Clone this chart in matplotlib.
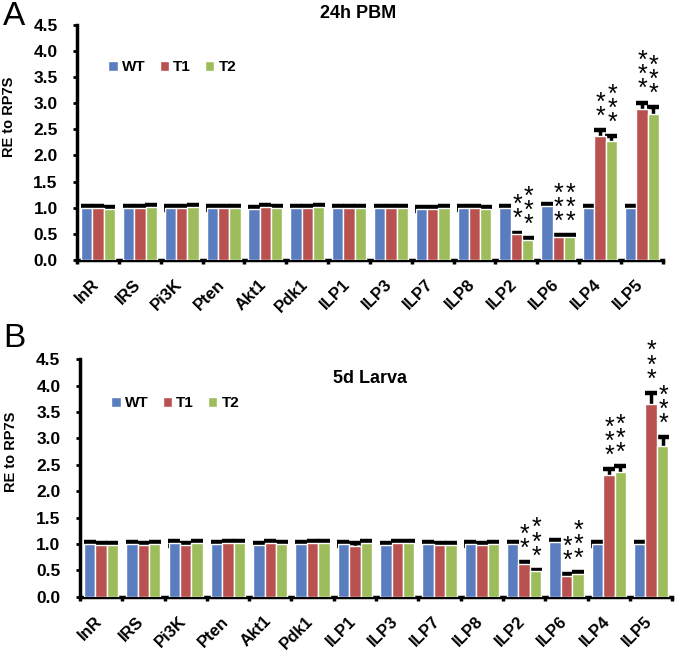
import numpy as np
import matplotlib
matplotlib.use("Agg")
import matplotlib.pyplot as plt
import matplotlib.transforms as mtransforms

plt.rcParams['font.family'] = ['Liberation Sans', 'DejaVu Sans']

genes = ["InR", "IRS", "Pi3K", "Pten", "Akt1", "Pdk1", "ILP1", "ILP3",
         "ILP7", "ILP8", "ILP2", "ILP6", "ILP4", "ILP5"]
groups = ["WT", "T1", "T2"]
colors = ["#5A7DC0", "#B8514F", "#9DBC5B"]

# panel A: 24h PBM
pbm_wt = [1.00, 1.00, 1.00, 1.00, 0.98, 1.00, 0.99, 1.00, 0.98, 1.00, 1.00, 1.04, 1.00, 1.00]
pbm_t1 = [1.00, 0.99, 0.99, 1.00, 1.01, 0.99, 1.00, 1.00, 0.98, 1.00, 0.49, 0.44, 2.38, 2.88]
pbm_t2 = [0.98, 1.01, 1.01, 0.99, 0.99, 1.01, 0.99, 0.99, 1.00, 0.98, 0.38, 0.44, 2.28, 2.80]
pbm_wt_err = [0.04] * 10 + [0.04, 0.03, 0.04, 0.04]
pbm_t1_err = [0.04] * 10 + [0.03, 0.03, 0.10, 0.13]
pbm_t2_err = [0.04] * 10 + [0.03, 0.03, 0.09, 0.12]
pbm_stars_t1 = [0] * 10 + [2, 3, 2, 3]
pbm_stars_t2 = [0] * 10 + [3, 3, 3, 3]

# panel B: 5d larva
lar_wt = [1.00, 1.00, 1.01, 1.00, 0.98, 1.00, 1.00, 0.98, 1.00, 1.00, 1.00, 1.04, 1.00, 1.00]
lar_t1 = [0.98, 0.98, 0.98, 1.02, 1.02, 1.02, 0.97, 1.01, 0.98, 0.98, 0.62, 0.40, 2.30, 3.66]
lar_t2 = [0.98, 1.00, 1.02, 1.02, 1.00, 1.02, 1.01, 1.01, 0.98, 1.00, 0.48, 0.44, 2.36, 2.86]
lar_wt_err = [0.04] * 10 + [0.04, 0.03, 0.04, 0.04]
lar_t1_err = [0.04] * 10 + [0.04, 0.03, 0.12, 0.20]
lar_t2_err = [0.04] * 10 + [0.03, 0.03, 0.11, 0.16]
lar_stars_t1 = [0] * 10 + [2, 2, 3, 3]
lar_stars_t2 = [0] * 10 + [3, 3, 3, 3]


def panel(fig, ax, title, vals, errs, stars, title_xy, leg_xy):
    x = np.arange(len(genes))
    w = 0.27
    for i, (v, e, c, g) in enumerate(zip(vals, errs, colors, groups)):
        xs = x + (i - 1) * w
        ax.bar(xs, v, w, color=c, edgecolor="white", linewidth=1.0, label=g, zorder=3)
        # symmetric bars, lower half hidden behind the bar (Excel style)
        ax.errorbar(xs, v, yerr=e, fmt="none", ecolor="black",
                    elinewidth=2.5, capsize=4.3, capthick=3.2, zorder=2)
        if stars[i] is not None:
            for j in range(len(genes)):
                if stars[i][j]:
                    ax.annotate("\n".join(["*"] * stars[i][j]), (xs[j], v[j] + e[j]),
                                xytext=(0.5, 1), textcoords="offset points",
                                ha="center", va="bottom", fontsize=18,
                                linespacing=0.48)
    ax.set_xlim(-0.5, len(genes) - 0.5)
    ax.set_ylim(0, 4.5)
    ax.set_yticks(np.arange(0, 4.51, 0.5))
    ax.set_yticklabels([f"{t:.1f}" for t in np.arange(0, 4.51, 0.5)],
                       fontsize=12.5, fontweight="bold")
    ax.set_xticks(x)
    ax.set_xticklabels(genes, rotation=45, ha="right", rotation_mode="anchor",
                       fontsize=12, fontweight="bold")
    ax.tick_params(axis="x", which="major", length=0, pad=12)
    shift = mtransforms.ScaledTranslation(-5 / 72, 0, fig.dpi_scale_trans)
    for lab in ax.get_xticklabels():
        lab.set_transform(lab.get_transform() + shift)
    ax.set_xticks(np.arange(-0.5, len(genes)), minor=True)
    ax.tick_params(axis="x", which="minor", length=3, width=2.5, direction="out")
    ax.tick_params(axis="y", length=3, width=2, direction="out", pad=11)
    for side in ["top", "right"]:
        ax.spines[side].set_visible(False)
    for side in ["left", "bottom"]:
        ax.spines[side].set_linewidth(2.5)
    ax.set_ylabel("RE to RP7S", fontsize=10.5, fontweight="bold")
    ax.yaxis.set_label_coords(-0.105, 0.61)
    ax.text(title_xy[0], title_xy[1], title, transform=ax.transAxes, ha="center",
            va="center", fontsize=13, fontweight="bold")
    ax.legend(loc="center left", bbox_to_anchor=leg_xy, ncol=3, frameon=False,
              handlelength=0.6, handleheight=0.6, handletextpad=0.3,
              columnspacing=0.9, prop={"size": 11, "weight": "bold"})


fig = plt.figure(figsize=(6.77, 6.53), dpi=100)
axA = fig.add_axes([0.114, 0.602, 0.865, 0.36])
axB = fig.add_axes([0.118, 0.086, 0.875, 0.364])

panel(fig, axA, "24h PBM", [pbm_wt, pbm_t1, pbm_t2], [pbm_wt_err, pbm_t1_err, pbm_t2_err],
      [None, pbm_stars_t1, pbm_stars_t2], (0.48, 1.05), (0.03, 0.82))
panel(fig, axB, "5d Larva", [lar_wt, lar_t1, lar_t2], [lar_wt_err, lar_t1_err, lar_t2_err],
      [None, lar_stars_t1, lar_stars_t2], (0.49, 0.92), (0.03, 0.815))

fig.text(0.005, 0.975, "A", fontsize=24, ha="left", va="center")
fig.text(0.005, 0.482, "B", fontsize=24, ha="left", va="center")

fig.savefig("out.png", dpi=100)
